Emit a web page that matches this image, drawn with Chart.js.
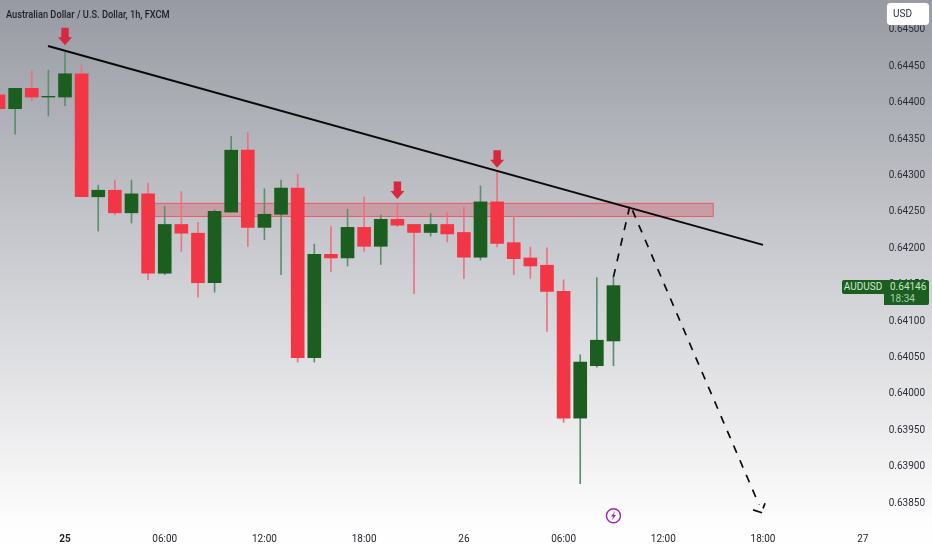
<!DOCTYPE html>
<html><head><meta charset="utf-8">
<script src="https://cdn.jsdelivr.net/npm/chart.js@4/dist/chart.umd.min.js"></script>
<style>
html,body{margin:0;padding:0;background:#fff;width:932px;height:550px;overflow:hidden}
#wrap{position:relative;width:932px;height:550px;font-family:Roboto,sans-serif}
canvas{position:absolute;left:0;top:0}
.t{position:absolute;white-space:nowrap}
#title{left:6px;top:7px;font-size:11.5px;line-height:14px;font-weight:500;color:#1d2026;transform:scaleX(.805);transform-origin:left center}
#usd{left:887px;top:3px;width:42px;height:22px;background:#fff;border-radius:4px;font-size:10px;line-height:22px;text-indent:6px;color:#2a2e39;box-shadow:0 0 1px #ddd}
#sym{left:842px;top:280px;width:42px;height:14px;background:#1b5e20;color:#d5e8d5;font-size:10px;line-height:14px;text-align:center;border-radius:2px 0 0 2px}
#val{left:884px;top:280px;width:45px;height:25px;background:#1b5e20;color:#c5e6c5;font-size:10px;line-height:11.5px;padding-top:1px;box-sizing:border-box;text-indent:6px;border-radius:0 2px 2px 0}
#val span{color:#a9cfa9;display:block}
</style></head><body>
<div id="wrap"><canvas id="c" width="932" height="550"></canvas>
<div class="t" id="title">Australian Dollar / U.S. Dollar, 1h, FXCM</div>
<div class="t" id="usd">USD</div>
<div class="t" id="sym">AUDUSD</div>
<div class="t" id="val">0.64146<span>18:34</span></div>
</div>
<script>
const hours  = [-4,-3,-2,-1,0,1,2,3,4,5,6,7,8,9,10,11,12,13,14,15,16,17,18,19,20,21,22,23,24,25,26,27,28,29,30,31,32,33];
const opens  = [0.64408,0.64389,0.64417,0.64405,0.64405,0.64437,0.64268,0.64277,0.64246,0.64272,0.64163,0.64230,0.64218,0.64150,0.64247,0.64332,0.64226,0.64244,0.64280,0.64047,0.64189,0.64184,0.64226,0.64200,0.64237,0.64230,0.64219,0.64230,0.64219,0.64185,0.64261,0.64205,0.64184,0.64174,0.64138,0.63964,0.64036,0.64070];
const highs  = [0.64415,0.64417,0.64442,0.64442,0.64466,0.64449,0.64284,0.64291,0.64291,0.64287,0.64255,0.64275,0.64233,0.64250,0.64351,0.64356,0.64279,0.64291,0.64299,0.64203,0.64227,0.64251,0.64268,0.64243,0.64258,0.64230,0.64245,0.64247,0.64254,0.64283,0.64304,0.64241,0.64199,0.64198,0.64154,0.64051,0.64157,0.64158];
const lows   = [0.64385,0.64354,0.64400,0.64379,0.64393,0.64268,0.64221,0.64243,0.64232,0.64154,0.64161,0.64193,0.64130,0.64137,0.64247,0.64200,0.64209,0.64161,0.64041,0.64041,0.64165,0.64173,0.64193,0.64175,0.64227,0.64135,0.64214,0.64206,0.64156,0.64181,0.64199,0.64161,0.64156,0.64083,0.63958,0.63874,0.64034,0.64036];
const closes = [0.64389,0.64417,0.64405,0.64406,0.64437,0.64268,0.64277,0.64246,0.64272,0.64163,0.64230,0.64218,0.64150,0.64248,0.64332,0.64226,0.64244,0.64280,0.64047,0.64189,0.64184,0.64226,0.64200,0.64237,0.64229,0.64219,0.64230,0.64217,0.64185,0.64261,0.64204,0.64183,0.64173,0.64138,0.63964,0.64041,0.64071,0.64146];

const xTickHours  = [0,6,12,18,24,30,36,42,48];
const xTickLabels = ['25','06:00','12:00','18:00','26','06:00','12:00','18:00','27'];
const boldTicks   = ['25'];

const trendHours  = [-1.02,42];
const trendPrices = [0.64475,0.64202];
const pathHours   = [33,34,41.76];
const pathPrices  = [0.64158,0.64257,0.63845];
const barbAHours  = [41.4,41.94];
const barbAPrices = [0.63838,0.63834];
const barbBHours  = [42.0,42.12];
const barbBPrices = [0.63840,0.63847];
const zoneHours   = [5.4,39];
const zonePrices  = [0.64259,0.64241];
const arrowHours  = [0,20,26];
const arrowPrices = [0.64476,0.64265,0.64308];
const boltHour    = 33;
const boltPrice   = 0.63830;

const GREEN='#1b5e20', RED='#f23645', GWICK='#5c8f6c', RWICK='#f0707f';
const isUp = i => closes[i] >= opens[i];
const pts = (xs,ys) => xs.map((x,i)=>({x,y:ys[i]}));
const lineDs = (xs,ys,extra) => Object.assign({type:'line',data:pts(xs,ys),borderColor:'#0a0a0a',borderWidth:2,pointRadius:0,fill:false,tension:0,order:0,borderCapStyle:'butt'},extra||{});

const scenery = {
  id:'scenery',
  beforeDraw(ch){
    const g=ch.ctx, grd=g.createLinearGradient(0,0,0,550);
    grd.addColorStop(0,'#979aa2');grd.addColorStop(.45,'#c8cacf');grd.addColorStop(.75,'#e9e9eb');grd.addColorStop(.95,'#fdfdfd');grd.addColorStop(1,'#ffffff');
    g.fillStyle=grd;g.fillRect(0,0,932,550);
  },
  beforeDatasetsDraw(ch){
    const g=ch.ctx,x=ch.scales.x,y=ch.scales.y;
    const x0=x.getPixelForValue(zoneHours[0]),x1=x.getPixelForValue(zoneHours[1]);
    const y0=y.getPixelForValue(zonePrices[0]),y1=y.getPixelForValue(zonePrices[1]);
    g.save();g.fillStyle='rgba(214,96,110,.38)';g.strokeStyle='#e85a68';g.lineWidth=1;
    g.fillRect(x0,y0,x1-x0,y1-y0);g.strokeRect(x0,y0,x1-x0,y1-y0);g.restore();
  },
  afterDatasetsDraw(ch){
    const g=ch.ctx,x=ch.scales.x,y=ch.scales.y;
    g.save();g.fillStyle='#d8283e';
    arrowHours.forEach((h,i)=>{
      const px=x.getPixelForValue(h),py=y.getPixelForValue(arrowPrices[i]);
      g.beginPath();g.moveTo(px,py);g.lineTo(px-7,py-8);g.lineTo(px-3.7,py-8);g.lineTo(px-3.7,py-17.5);g.lineTo(px+3.7,py-17.5);g.lineTo(px+3.7,py-8);g.lineTo(px+7,py-8);g.closePath();g.fill();
    });
    const bx=x.getPixelForValue(boltHour),by=y.getPixelForValue(boltPrice);
    g.strokeStyle='#9c27b0';g.fillStyle='#9c27b0';g.lineWidth=1.4;
    g.beginPath();g.arc(bx,by,7,0,Math.PI*2);g.stroke();
    g.beginPath();g.moveTo(bx+1.5,by-4.5);g.lineTo(bx-2.5,by+.8);g.lineTo(bx-.3,by+.8);g.lineTo(bx-1.5,by+4.5);g.lineTo(bx+2.5,by-.8);g.lineTo(bx+.3,by-.8);g.closePath();g.fill();
    g.restore();
  }
};

new Chart(document.getElementById('c'),{
  type:'bar',
  data:{datasets:[
    lineDs(trendHours,trendPrices),
    lineDs(pathHours,pathPrices,{borderDash:[8,8],borderWidth:1.7}),
    lineDs(barbAHours,barbAPrices,{borderWidth:1.7}),
    lineDs(barbBHours,barbBPrices,{borderWidth:1.7}),
    {label:'body',data:hours.map((h,i)=>({x:h,y:[opens[i],closes[i]]})),backgroundColor:hours.map((h,i)=>isUp(i)?GREEN:RED),barThickness:13,grouped:false,order:1},
    {label:'wick',data:hours.map((h,i)=>({x:h,y:[lows[i],highs[i]]})),backgroundColor:hours.map((h,i)=>isUp(i)?GWICK:RWICK),barThickness:1,grouped:false,order:2}
  ]},
  plugins:[scenery],
  options:{
    responsive:false,devicePixelRatio:1,animation:false,
    layout:{padding:0,autoPadding:false},
    plugins:{legend:{display:false},tooltip:{enabled:false}},
    scales:{
      x:{type:'linear',position:'bottom',min:-3.911,max:52.166,offset:false,
        grid:{display:false},border:{display:false},
        afterFit(a){a.height=25},
        afterBuildTicks(a){a.ticks=xTickHours.map(v=>({value:v}))},
        ticks:{autoSkip:false,maxRotation:0,includeBounds:false,padding:0,color:'#1d2026',
          font(c){const l=xTickLabels[xTickHours.indexOf(c.tick&&c.tick.value)];return {family:'Roboto',size:10,weight:boldTicks.includes(l)?'700':'400'}},
          callback(v){const k=xTickHours.indexOf(v);return k<0?'':xTickLabels[k]}}},
      y:{type:'linear',position:'right',min:0.638172,max:0.645383,
        grid:{display:false},border:{display:false},
        afterFit(a){a.width=0},
        ticks:{stepSize:0.0005,mirror:true,includeBounds:false,padding:-7,labelOffset:2,autoSkip:false,color:'#2a2e39',font:{family:'Roboto',size:10},
          callback(v){return v.toFixed(5)}}}
    }
  }
});
</script></body></html>
